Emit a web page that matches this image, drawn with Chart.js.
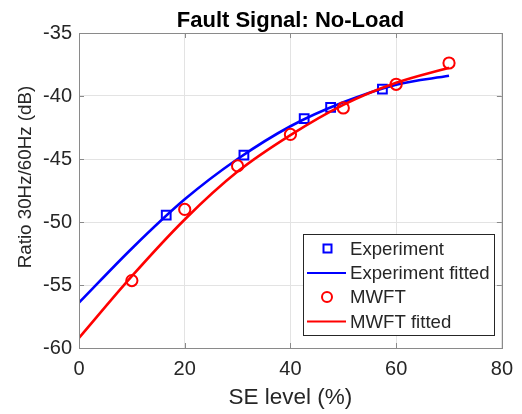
<!DOCTYPE html>
<html>
<head>
<meta charset="utf-8">
<script src="https://cdn.jsdelivr.net/npm/chart.js@4/dist/chart.umd.min.js"></script>
<style>
  html, body { margin: 0; padding: 0; background: #fff; }
  #wrap { width: 522px; height: 414px; }
</style>
</head>
<body>
<div id="wrap"><canvas id="faultChart" width="522" height="414"></canvas></div>
<script>
// ---- data ----
const expX = [16.5, 31.2, 42.6, 47.6, 57.4];
const expY = [-49.45, -44.7, -41.8, -40.9, -39.45];

const mwftX = [10, 20, 30, 40, 50, 60, 70];
const mwftY = [-54.65, -49.0, -45.55, -43.05, -40.95, -39.07, -37.38];

const fitX = [0, 10, 20, 30, 40, 50, 60, 70];
const expFitY = [-56.4, -52.1, -48.2, -45.0, -42.4, -40.5, -39.1, -38.4];
const mwftFitY = [-59.2, -54.3, -49.8, -46.0, -43.1, -40.7, -38.95, -37.75];

const legendLabels = ['Experiment', 'Experiment fitted', 'MWFT', 'MWFT fitted'];
const yTitle = 'Ratio 30Hz/60Hz (dB)';

const FONT = '"Liberation Sans", Arial, Helvetica, sans-serif';
const TXT = '#262626';
const AXIS = '#8a8a8a';

const toPts = (xs, ys) => xs.map((x, i) => ({ x: x, y: ys[i] }));

// box + inward ticks, then the legend inside the axes and the y label
const framePlugin = {
    id: 'frame',
    afterDatasetsDraw(chart) {
        const { ctx, chartArea: a, scales } = chart;
        const tl = 5;
        ctx.save();
        ctx.strokeStyle = AXIS;
        ctx.lineWidth = 1;
        ctx.beginPath();
        scales.x.ticks.forEach(t => {
            const px = Math.round(scales.x.getPixelForValue(t.value)) + 0.5;
            ctx.moveTo(px, a.bottom); ctx.lineTo(px, a.bottom - tl);
            ctx.moveTo(px, a.top); ctx.lineTo(px, a.top + tl);
        });
        scales.y.ticks.forEach(t => {
            const py = Math.round(scales.y.getPixelForValue(t.value)) + 0.5;
            ctx.moveTo(a.left, py); ctx.lineTo(a.left + tl, py);
            ctx.moveTo(a.right, py); ctx.lineTo(a.right - tl, py);
        });
        ctx.stroke();
        ctx.strokeRect(Math.round(a.left) + 0.5, Math.round(a.top) + 0.5,
                       Math.round(a.right - a.left), Math.round(a.bottom - a.top));
        ctx.restore();
    },
    afterDraw(chart) {
        const { ctx } = chart;
        const bx = 303.5, by = 234.5, bw = 191, bh = 101;
        ctx.save();
        ctx.fillStyle = '#fff';
        ctx.fillRect(bx, by, bw, bh);
        ctx.strokeStyle = TXT;
        ctx.lineWidth = 1;
        ctx.strokeRect(bx, by, bw, bh);

        const rows = [248.5, 273, 297, 321.5];
        const ds = chart.data.datasets;
        ctx.font = '18.6px ' + FONT;
        ctx.textBaseline = 'middle';
        ctx.textAlign = 'left';
        legendLabels.forEach((lab, i) => {
            const d = ds[i];
            const y = rows[i];
            ctx.strokeStyle = d.borderColor;
            ctx.lineWidth = 2;
            ctx.beginPath();
            if (d.showLine) {
                ctx.moveTo(307, y); ctx.lineTo(346, y);
            } else if (d.pointStyle === 'rect') {
                ctx.rect(323.5, y - 4, 8, 8);
            } else {
                ctx.arc(327, y, 5, 0, Math.PI * 2);
            }
            ctx.stroke();
            ctx.fillStyle = TXT;
            ctx.fillText(lab, 350, y + 1);
        });

        // y axis label
        ctx.translate(26, 177);
        ctx.rotate(-Math.PI / 2);
        ctx.font = '18.8px ' + FONT;
        ctx.textAlign = 'center';
        ctx.textBaseline = 'middle';
        ctx.fillStyle = TXT;
        ctx.fillText(yTitle, 0, 0);
        ctx.restore();
    }
};

const ctx = document.getElementById('faultChart').getContext('2d');
const chart = new Chart(ctx, {
    type: 'scatter',
    data: {
        datasets: [{
            label: legendLabels[0],
            data: toPts(expX, expY),
            showLine: false,
            pointStyle: 'rect',
            pointRadius: 6.2,
            pointBorderWidth: 2,
            borderColor: '#0000ff',
            backgroundColor: 'rgba(0,0,0,0)',
            order: 4
        }, {
            label: legendLabels[1],
            data: toPts(fitX, expFitY),
            showLine: true,
            pointRadius: 0,
            borderWidth: 2.6,
            borderColor: '#0000ff',
            cubicInterpolationMode: 'monotone',
            order: 3
        }, {
            label: legendLabels[2],
            data: toPts(mwftX, mwftY),
            showLine: false,
            pointStyle: 'circle',
            pointRadius: 5.6,
            pointBorderWidth: 2,
            borderColor: '#ff0000',
            backgroundColor: 'rgba(0,0,0,0)',
            order: 2
        }, {
            label: legendLabels[3],
            data: toPts(fitX, mwftFitY),
            showLine: true,
            pointRadius: 0,
            borderWidth: 2.6,
            borderColor: '#ff0000',
            cubicInterpolationMode: 'monotone',
            order: 1
        }]
    },
    options: {
        responsive: false,
        animation: false,
        events: [],
        layout: { padding: { left: 0, right: 18, top: 0, bottom: 0 } },
        plugins: {
            legend: { display: false },
            tooltip: { enabled: false },
            title: {
                display: true,
                fullSize: false,
                text: 'Fault Signal: No-Load',
                color: '#000',
                font: { family: FONT, size: 22, weight: 'bold', lineHeight: 1.1 },
                padding: { top: 8.8, bottom: 0 }
            }
        },
        scales: {
            x: {
                type: 'linear',
                min: 0,
                max: 80,
                afterFit: (s) => { s.height = 66; },
                ticks: {
                    stepSize: 20,
                    color: TXT,
                    padding: 9,
                    maxRotation: 0,
                    font: { family: FONT, size: 20 }
                },
                grid: { color: '#e3e3e3', drawTicks: false },
                border: { display: false },
                title: {
                    display: true,
                    text: 'SE level (%)',
                    color: TXT,
                    font: { family: FONT, size: 22.5 },
                    padding: { top: 0, bottom: 3 }
                }
            },
            y: {
                type: 'linear',
                min: -60,
                max: -35,
                afterFit: (s) => { s.width = 79; },
                ticks: {
                    stepSize: 5,
                    color: TXT,
                    padding: 7,
                    font: { family: FONT, size: 20 }
                },
                grid: { color: '#e3e3e3', drawTicks: false },
                border: { display: false },
                title: { display: false }
            }
        }
    },
    plugins: [framePlugin]
});
</script>
</body>
</html>
